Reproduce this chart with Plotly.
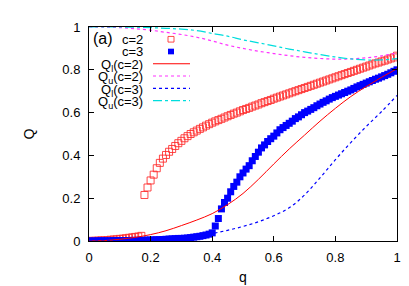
import plotly.graph_objects as go

# ---- data ----
q_pts = [round(i * 0.01, 2) for i in range(101)]

Q_c2 = [0.000, 0.001, 0.001, 0.002, 0.003, 0.003, 0.004, 0.006, 0.007, 0.008,
        0.010, 0.011, 0.013, 0.015, 0.017, 0.019, 0.021, 0.024, 0.215, 0.250,
        0.283, 0.310, 0.340, 0.365, 0.385, 0.402, 0.417, 0.430, 0.444, 0.457,
        0.468, 0.480, 0.490, 0.500, 0.508, 0.516, 0.524, 0.531, 0.539, 0.546,
        0.553, 0.559, 0.565, 0.571, 0.577, 0.583, 0.589, 0.595, 0.600, 0.606,
        0.612, 0.617, 0.622, 0.628, 0.633, 0.638, 0.644, 0.649, 0.654, 0.659,
        0.665, 0.670, 0.675, 0.680, 0.685, 0.690, 0.695, 0.700, 0.705, 0.710,
        0.715, 0.720, 0.725, 0.730, 0.735, 0.740, 0.745, 0.750, 0.755, 0.760,
        0.765, 0.770, 0.775, 0.780, 0.785, 0.790, 0.795, 0.800, 0.805, 0.810,
        0.815, 0.820, 0.825, 0.830, 0.834, 0.839, 0.843, 0.848, 0.853, 0.858,
        0.866]

Q_c3 = [0.000, 0.000, 0.000, 0.001, 0.001, 0.001, 0.001, 0.001, 0.002, 0.002,
        0.002, 0.002, 0.002, 0.002, 0.003, 0.003, 0.003, 0.003, 0.004, 0.004,
        0.005, 0.005, 0.006, 0.006, 0.007, 0.008, 0.009, 0.010, 0.011, 0.012,
        0.012, 0.013, 0.014, 0.016, 0.018, 0.020, 0.022, 0.025, 0.028, 0.032,
        0.038, 0.070, 0.105, 0.150, 0.180, 0.200, 0.230, 0.255, 0.275, 0.300,
        0.318, 0.336, 0.352, 0.375, 0.395, 0.415, 0.435, 0.449, 0.465, 0.478,
        0.490, 0.505, 0.520, 0.530, 0.540, 0.550, 0.560, 0.572, 0.580, 0.590,
        0.600, 0.607, 0.615, 0.623, 0.632, 0.640, 0.648, 0.655, 0.663, 0.670,
        0.676, 0.682, 0.688, 0.694, 0.700, 0.706, 0.713, 0.720, 0.726, 0.732,
        0.738, 0.744, 0.750, 0.756, 0.761, 0.767, 0.773, 0.779, 0.786, 0.793,
        0.800]

q_line = [round(i * 0.05, 2) for i in range(21)]
Ql_c2 = [0.0, 0.002, 0.008, 0.017, 0.030, 0.048, 0.072, 0.098, 0.128, 0.170,
         0.222, 0.288, 0.360, 0.430, 0.495, 0.560, 0.620, 0.675, 0.722, 0.765, 0.805]
Qu_c2 = [1.0, 0.999, 0.997, 0.992, 0.985, 0.975, 0.965, 0.952, 0.935, 0.915,
         0.900, 0.887, 0.876, 0.866, 0.858, 0.853, 0.850, 0.851, 0.856, 0.865, 0.879]
Ql_c3 = [0.0, 0.0001, 0.0005, 0.002, 0.004, 0.008, 0.013, 0.022, 0.035, 0.050,
         0.068, 0.090, 0.118, 0.155, 0.215, 0.295, 0.380, 0.460, 0.535, 0.605, 0.680]
Qu_c3 = [1.0, 1.0, 1.0, 0.999, 0.997, 0.994, 0.990, 0.983, 0.970, 0.957,
         0.940, 0.926, 0.912, 0.897, 0.884, 0.871, 0.860, 0.851, 0.846, 0.846, 0.852]

x_ticks = [0, 0.2, 0.4, 0.6, 0.8, 1]
x_tick_labels = ["0", "0.2", "0.4", "0.6", "0.8", "1"]
y_ticks = [0, 0.2, 0.4, 0.6, 0.8, 1]
y_tick_labels = ["0", "0.2", "0.4", "0.6", "0.8", "1"]

RED = "#ff0000"
MAG = "#ff33ff"
BLUE = "#0000ff"
CYAN = "#00dddd"
FONT = "Liberation Sans, Arial, sans-serif"

fig = go.Figure()
fig.add_trace(go.Scatter(x=q_pts, y=Q_c2, mode="markers", name="c=2",
                         marker=dict(symbol="square-open", size=7, color="rgba(255,40,40,0.85)",
                                     line=dict(width=1))))
fig.add_trace(go.Scatter(x=q_pts, y=Q_c3, mode="markers", name="c=3",
                         marker=dict(symbol="square", size=7, color=BLUE, line=dict(width=0))))
fig.add_trace(go.Scatter(x=q_line, y=Ql_c2, mode="lines", line=dict(color=RED, width=1, shape="spline")))
fig.add_trace(go.Scatter(x=q_line, y=Qu_c2, mode="lines", line=dict(color=MAG, width=1.2, dash="dot", shape="spline")))
fig.add_trace(go.Scatter(x=q_line, y=Ql_c3, mode="lines", line=dict(color=BLUE, width=1.2, dash="dot", shape="spline")))
fig.add_trace(go.Scatter(x=q_line, y=Qu_c3, mode="lines", line=dict(color=CYAN, width=1.2, dash="dashdot", shape="spline")))

# ---- gnuplot-style key (text right, sample left) ----
L, R, T, B = 81, 389, 15, 242
W, H = R - L, B - T
def px(x):
    return (x - L) / W
def py(y):
    return (B - y) / H

annotations = [dict(text="(a)", x=px(83), y=py(27), xref="paper", yref="paper",
                    xanchor="left", yanchor="middle", showarrow=False,
                    font=dict(size=16, color="black", family=FONT))]
key_labels = ["c=2", "c=3", "Q<sub>l</sub>(c=2)", "Q<sub>u</sub>(c=2)",
              "Q<sub>l</sub>(c=3)", "Q<sub>u</sub>(c=3)"]
key_y = [28, 41, 54, 67, 80, 93]
for lab, yy in zip(key_labels, key_y):
    annotations.append(dict(text=lab, x=px(137), y=py(yy + (2 if "sub" in lab else 0)),
                            xref="paper", yref="paper", xanchor="right", yanchor="middle",
                            showarrow=False, font=dict(size=13, color="black", family=FONT)))

shapes = []
# marker samples
shapes.append(dict(type="rect", xref="paper", yref="paper",
                   x0=px(160), x1=px(166), y0=py(31), y1=py(25),
                   line=dict(color="rgba(255,40,40,0.85)", width=1)))
shapes.append(dict(type="rect", xref="paper", yref="paper",
                   x0=px(160), x1=px(166), y0=py(44), y1=py(38),
                   line=dict(width=0), fillcolor=BLUE))
for yy, col, dash in [(54, RED, "solid"), (67, MAG, "dot"), (80, BLUE, "dot"), (93, CYAN, "dashdot")]:
    shapes.append(dict(type="line", xref="paper", yref="paper",
                       x0=px(145), x1=px(182), y0=py(yy), y1=py(yy),
                       line=dict(color=col, width=1.2, dash=dash)))

axis_common = dict(showline=True, linecolor="black", linewidth=1, mirror="ticks",
                   ticks="inside", ticklen=5, tickcolor="black", showgrid=False,
                   zeroline=False, tickfont=dict(size=13, color="black", family=FONT))

fig.update_layout(
    width=409, height=286,
    margin=dict(l=L, r=409 - R, t=T, b=286 - B),
    paper_bgcolor="white", plot_bgcolor="white",
    showlegend=False,
    font=dict(family=FONT, color="black"),
    xaxis=dict(range=[0, 1], tickvals=x_ticks, ticktext=x_tick_labels,
               ticklabelstandoff=4,
               title=dict(text="q", font=dict(size=14), standoff=8), **axis_common),
    yaxis=dict(range=[0, 1], tickvals=y_ticks, ticktext=y_tick_labels,
               ticklabelstandoff=5,
               title=dict(text="Q", font=dict(size=14), standoff=24), **axis_common),
    annotations=annotations,
    shapes=shapes,
)

fig.write_html("out.html")
